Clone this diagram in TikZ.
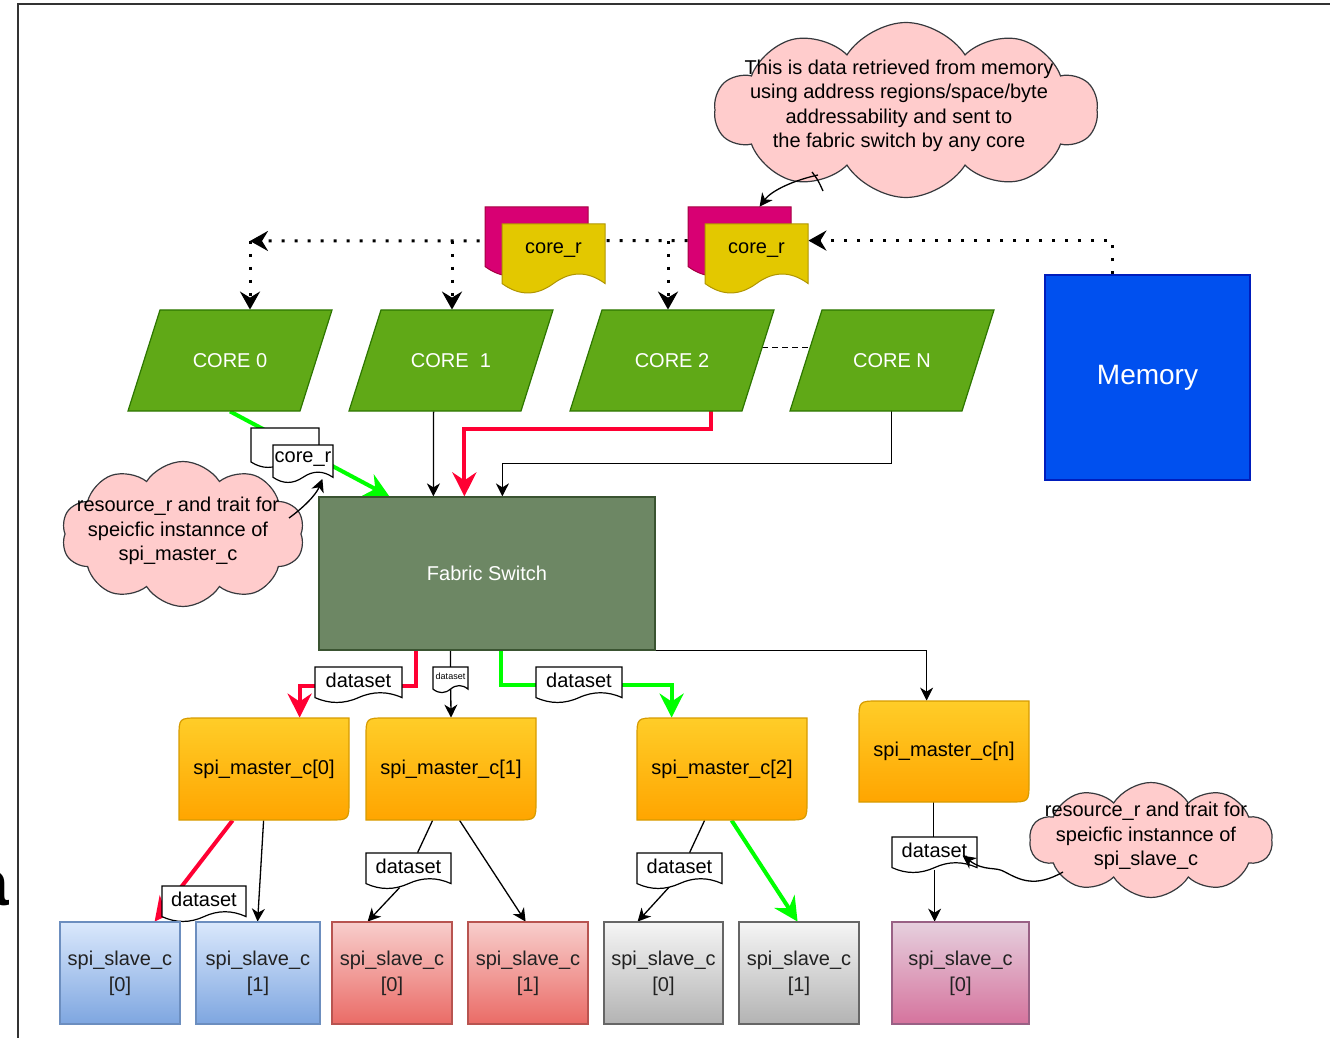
\documentclass[tikz,border=0pt]{standalone}
\usepackage{fontspec}
\setmainfont{Liberation Sans}
\usetikzlibrary{arrows.meta,calc,shapes.symbols}
\pgfdeclarelayer{bg}
\pgfsetlayers{bg,main}
\definecolor{corefill}{HTML}{60A917}
\definecolor{corestroke}{HTML}{2D7600}
\definecolor{memfill}{HTML}{0050EF}
\definecolor{memstroke}{HTML}{001DBC}
\definecolor{fsfill}{HTML}{6D8764}
\definecolor{fsstroke}{HTML}{3A5431}
\definecolor{magfill}{HTML}{D80073}
\definecolor{magstroke}{HTML}{A50040}
\definecolor{yelfill}{HTML}{E3C800}
\definecolor{yelstroke}{HTML}{B09500}
\definecolor{cloudfill}{HTML}{FFCCCC}
\definecolor{cloudstroke}{HTML}{36393D}
\definecolor{mtop}{HTML}{FFCD28}
\definecolor{mbot}{HTML}{FFA500}
\definecolor{mstroke}{HTML}{D79B00}
\definecolor{btop}{HTML}{DAE8FC}\definecolor{bbot}{HTML}{7EA6E0}\definecolor{bstroke}{HTML}{6C8EBF}
\definecolor{rtop}{HTML}{F8CECC}\definecolor{rbot}{HTML}{EA6B66}\definecolor{rstroke}{HTML}{B85450}
\definecolor{gtop}{HTML}{F5F5F5}\definecolor{gbot}{HTML}{B3B3B3}\definecolor{gstroke}{HTML}{666666}
\definecolor{ptop}{HTML}{E6D0DE}\definecolor{pbot}{HTML}{D5739D}\definecolor{pstroke}{HTML}{996185}
\definecolor{myred}{HTML}{FF0033}
\definecolor{mygreen}{HTML}{00FF00}
\definecolor{framecol}{HTML}{333333}
\definecolor{slavetext}{HTML}{222222}

% document shape: name, x, y, w, h, style, text  (px, y down)
\newcommand\docshape[7]{%
  \path[#6] (#2,#3) -- ({#2+#4},#3) -- ({#2+#4},{#3+0.85*#5})
    .. controls ({#2+5*#4/6},{#3+0.67*#5}) and ({#2+2*#4/3},{#3+0.67*#5}) .. ({#2+#4/2},{#3+0.85*#5})
    .. controls ({#2+#4/3},{#3+1.03*#5}) and ({#2+#4/6},{#3+1.03*#5}) .. (#2,{#3+0.85*#5}) -- cycle;
  \node[minimum width={#4*0.5pt}, minimum height={0.75*#5*0.5pt}] (#1) at ({#2+#4/2},{#3+0.375*#5}) {#7};
}
% core parallelogram: name, x bottom-left, y top, text
\newcommand\corebox[4]{%
  \path[corest] (#2,{#3+101}) -- ({#2+172},{#3+101}) -- ({#2+204},#3) -- ({#2+32},#3) -- cycle;
  \node[text=white, minimum width=102pt, minimum height=50.5pt] (#1) at ({#2+102},{#3+50.5}) {#4};
}
% master box: name, x, y, w, h, text
\newcommand\masterbox[6]{%
  \path[masterst] (#2,{#3+#5}) -- (#2,{#3+20}) .. controls (#2,#3) .. ({#2+20},#3) -- ({#2+#4},#3)
    -- ({#2+#4},{#3+#5-20}) .. controls ({#2+#4},{#3+#5}) .. ({#2+#4-20},{#3+#5}) -- cycle;
  \node[minimum width={#4*0.5pt}, minimum height={#5*0.5pt}] (#1) at ({#2+#4/2},{#3+#5/2}) {#6};
}
% slave box: name, x, y, w, h, style, text
\newcommand\slavebox[7]{%
  \path[#6] (#2,#3) rectangle ({#2+#4},{#3+#5});
  \node[slavetxt, minimum width={#4*0.5pt}, minimum height={#5*0.5pt}] (#1) at ({#2+#4/2},{#3+#5/2}) {#7};
}

\begin{document}
\begin{tikzpicture}[x=0.5pt,y=-0.5pt,
  every node/.style={font=\fontsize{10pt}{12.2pt}\selectfont, inner sep=0pt},
  thinln/.style={draw=black, line width=0.65pt},
  tarr/.style={thinln, -{Stealth[length=6.5pt,width=6.5pt,inset=2pt]}},
  redarr/.style={draw=myred, line width=2pt, -{Stealth[length=12pt,width=12pt,inset=4pt]}},
  greenarr/.style={draw=mygreen, line width=2pt, -{Stealth[length=12pt,width=12pt,inset=4pt]}},
  dotarr/.style={draw=black, line width=1.5pt, dash pattern=on 1.5pt off 5pt, -{Stealth[length=9pt,width=10pt,inset=3pt]}},
  dashln/.style={draw=black, line width=0.6pt, dash pattern=on 3pt off 2pt},
  corest/.style={fill=corefill, draw=corestroke, line width=0.6pt},
  memst/.style={fill=memfill, draw=memstroke, line width=0.6pt, text=white, font=\fontsize{14pt}{16pt}\selectfont},
  fsst/.style={fill=fsfill, draw=fsstroke, line width=0.6pt, text=white},
  magst/.style={fill=magfill, draw=magstroke, line width=0.5pt},
  yelst/.style={fill=yelfill, draw=yelstroke, line width=0.5pt},
  docst/.style={fill=white, draw=black, line width=0.6pt},
  masterst/.style={top color=mtop, bottom color=mbot, draw=mstroke, line width=0.6pt},
  slb/.style={top color=btop, bottom color=bbot, draw=bstroke, line width=0.6pt},
  slr/.style={top color=rtop, bottom color=rbot, draw=rstroke, line width=0.6pt},
  slg/.style={top color=gtop, bottom color=gbot, draw=gstroke, line width=0.6pt},
  slp/.style={top color=ptop, bottom color=pbot, draw=pstroke, line width=0.6pt},
  slavetxt/.style={align=center, text=slavetext, font=\fontsize{10pt}{13pt}\selectfont},
  cloudst/.style={cloud, cloud puffs=10, cloud puff arc=115, cloud ignores aspect, fill=cloudfill, draw=cloudstroke, line width=0.6pt},
  framest/.style={draw=framecol, line width=1pt}
]
\useasboundingbox (0,0) rectangle (1330,1038);

% frame
\draw[framest] (18,1045) -- (18,4) -- (1340,4);
\node[anchor=base east, font=\bfseries\fontsize{32pt}{32pt}\selectfont] (cut) at (9,905) {a};

% clouds
\node[cloudst, minimum width=191.5pt, minimum height=87.5pt] (cl1) at (906,110) {};
\node[align=center] (cl1t) at (899,106) {This is data retrieved from memory\\using address regions/space/byte\\addressability and sent to\\the fabric switch by any core};
\node[cloudst, minimum width=121.5pt, minimum height=72.5pt] (cl2) at (183,534) {};
\node[align=center] (cl2t) at (178,531) {resource\_r and trait for\\speicfic instannce of\\spi\_master\_c};
\node[cloudst, minimum width=121.5pt, minimum height=57.5pt] (cl3) at (1151,840) {};
\node[align=center] (cl3t) at (1146,836) {resource\_r and trait for\\speicfic instannce of\\spi\_slave\_c};

% cores
\corebox{c0}{128}{310}{CORE 0}
\corebox{c1}{349}{310}{CORE\ \ 1}
\corebox{c2}{570}{310}{CORE 2}
\corebox{cN}{790}{310}{CORE N}

\node[memst, minimum width=102.5pt, minimum height=102.5pt] (mem) at (1147.5,377.5) {Memory};
\node[fsst, minimum width=168pt, minimum height=76.5pt] (fs) at (487,573.5) {Fabric Switch};

% documents
\docshape{d1b}{485}{207}{103}{70}{magst}{}
\docshape{d1}{502}{224}{103}{70}{yelst}{\raisebox{-2pt}{core\_r}}
\docshape{d2b}{688}{207}{103}{70}{magst}{}
\docshape{d2}{705}{224}{103}{70}{yelst}{\raisebox{-2pt}{core\_r}}
\docshape{dcb}{251}{428}{68}{40}{docst}{}
\docshape{dc}{273}{445}{60}{38}{docst}{core\_r}
\docshape{dsa}{315}{667}{87}{36}{docst}{dataset}
\docshape{dst}{433}{667}{35}{26}{docst}{\fontsize{4.5pt}{5pt}\selectfont dataset}
\docshape{dsg}{536}{667}{86}{36}{docst}{dataset}
\docshape{ds0}{162}{886}{84}{36}{docst}{dataset}
\docshape{ds1}{366}{853}{85}{36}{docst}{dataset}
\docshape{ds2}{637}{853}{85}{36}{docst}{dataset}
\docshape{dsn}{892}{837}{85}{36}{docst}{dataset}

% masters
\masterbox{m0}{179}{718}{170}{102}{spi\_master\_c[0]}
\masterbox{m1}{366}{718}{170}{102}{spi\_master\_c[1]}
\masterbox{m2}{637}{718}{170}{102}{spi\_master\_c[2]}
\masterbox{mn}{859}{701}{170}{101}{spi\_master\_c[n]}

% slaves
\slavebox{sb0}{60}{922}{120}{102}{slb}{spi\_slave\_c\\{[0]}}
\slavebox{sb1}{196}{922}{124}{102}{slb}{spi\_slave\_c\\{[1]}}
\slavebox{sr0}{332}{922}{120}{102}{slr}{spi\_slave\_c\\{[0]}}
\slavebox{sr1}{468}{922}{120}{102}{slr}{spi\_slave\_c\\{[1]}}
\slavebox{sg0}{604}{922}{119}{102}{slg}{spi\_slave\_c\\{[0]}}
\slavebox{sg1}{739}{922}{120}{102}{slg}{spi\_slave\_c\\{[1]}}
\slavebox{sp0}{892}{922}{137}{102}{slp}{spi\_slave\_c\\{[0]}}

% connectors behind shapes
\begin{pgfonlayer}{bg}
\coordinate (jL) at (250,241);
\coordinate (j1) at (452,241);
\coordinate (j2) at (668,241);
\draw[dotarr] ($(mem.north west)+(68,0)$) |- ($(d2.north east)+(0,17)$);
\draw[dotarr] ($(d2b.north west)+(0,34)$) -- (jL);
\draw[dotarr] (jL) -- (jL |- c0.north);
\draw[dotarr] (j1) -- (j1 |- c1.north);
\draw[dotarr] (j2) -- (j2 |- c2.north);
\draw[dashln] ($(c2.north east)+(-12,38)$) -- ($(cN.north west)+(20,38)$);

\draw[greenarr] (c0.south) -- ($(fs.north west)+(71,0)$);
\draw[tarr] ($(c1.south west)+(85,0)$) -- ($(fs.north west)+(115,0)$);
\draw[redarr] ($(c2.south west)+(141,0)$) -- ++(0,18) -| ($(fs.north west)+(146,0)$);
\draw[tarr] ($(cN.south west)+(102,0)$) -- ++(0,52) -| ($(fs.north west)+(184,0)$);

\draw[redarr] ($(fs.south west)+(98,0)$) -- ++(0,35) -| ($(m0.north west)+(121,0)$);
\draw[tarr] ($(fs.south west)+(132,0)$) -- (m1.north);
\draw[greenarr] ($(fs.south west)+(183,0)$) -- ++(0,34) -| ($(m2.north west)+(35,0)$);
\draw[tarr] (fs.south east) -| ($(mn.north west)+(68,0)$);

\draw[redarr] ($(m0.south west)+(54,0)$) -- ($(sb0.north west)+(95,0)$);
\draw[tarr] ($(m0.south west)+(85,0)$) -- ($(sb1.north west)+(62,0)$);
\draw[thinln] ($(m1.south west)+(67,0)$) -- ($(ds1.north west)+(52,0)$);
\draw[tarr] ($(ds1.north west)+(34,35)$) -- ($(sr0.north west)+(36,0)$);
\draw[tarr] ($(m1.south west)+(94,0)$) -- ($(sr1.north west)+(58,0)$);
\draw[thinln] ($(m2.south west)+(68,0)$) -- ($(ds2.north west)+(53,0)$);
\draw[tarr] ($(ds2.north west)+(33,34)$) -- ($(sg0.north west)+(34,0)$);
\draw[greenarr] ($(m2.south west)+(95,0)$) -- ($(sg1.north west)+(59,0)$);
\draw[thinln] ($(mn.south west)+(75,0)$) -- ($(dsn.north west)+(42,0)$);
\draw[tarr] ($(dsn.north west)+(43,33)$) -- ($(sp0.north west)+(43,0)$);
\end{pgfonlayer}

% annotation arrows from clouds
\coordinate (a1) at (818,175);
\coordinate (a1t) at (812,172);
\coordinate (a2) at (289,518);
\coordinate (a3) at (1063,872);
\draw[tarr] (a1) .. controls (795,180) and (772,190) .. ($(d2b.north west)+(72,0)$);
\draw[thinln] (a1t) .. controls (818,180) .. (823,191);
\draw[tarr] (a2) .. controls (303,508) and (316,495) .. ($(dc.south east)+(-11,5)$);
\draw[tarr] (a3) .. controls (1035,888) and (1020,880) .. (1005,872) .. controls (995,866) and (985,872) .. ($(dsn.north west)+(71,19)$);
\end{tikzpicture}
\end{document}
